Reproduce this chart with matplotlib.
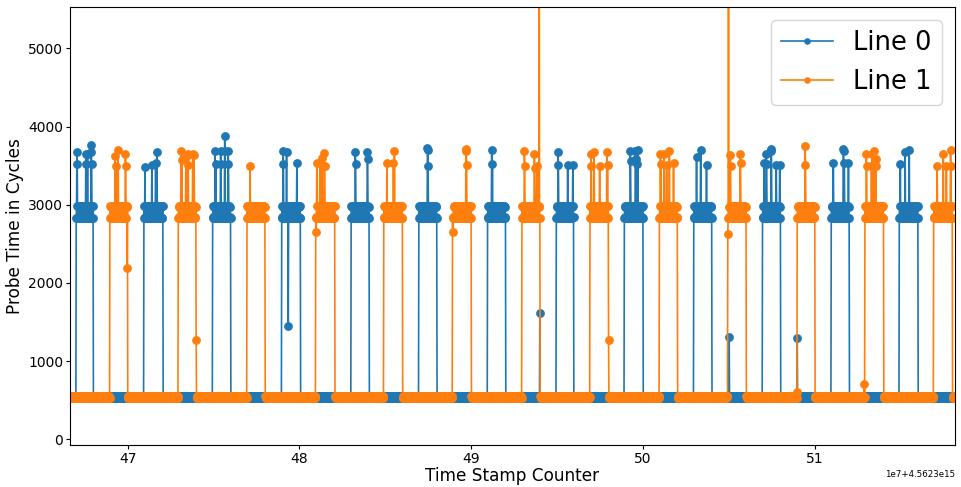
import matplotlib
matplotlib.use("Agg")
import matplotlib.pyplot as plt
import numpy as np


OUTPUT_PATH = "out.png"

# time stamps are stored in units of 1e7 cycles after this offset
TSC_OFFSET = 4.5623e15
TSC_UNIT = 1e7
T_START = 46.665
T_END = 51.815
SAMPLE_STEP = 0.002

# probe times (cycles)
BASE_LEVELS = [525, 552, 535, 556, 530]
PLATEAU_LEVELS = [2830, 2985, 2845, 2970, 2835, 2990]
OFF_CHART = 9000  # the two orange spikes leave the plot, true height unknown

LINE0_BURSTS = [
    (46.700, 46.800), (47.095, 47.205), (47.495, 47.600), (47.895, 48.005),
    (48.300, 48.405), (48.695, 48.800), (49.095, 49.200), (49.495, 49.595),
    (49.890, 50.000), (50.295, 50.400), (50.695, 50.800), (51.095, 51.200),
    (51.490, 51.600),
]

LINE1_BURSTS = [
    (46.895, 47.000), (47.295, 47.400), (47.695, 47.800), (48.095, 48.205),
    (48.490, 48.600), (48.890, 49.000), (49.295, 49.400), (49.690, 49.800),
    (50.095, 50.200), (50.495, 50.600), (50.895, 51.000), (51.290, 51.400),
    (51.690, 51.800),
]

LINE0_SPIKES = [
    (46.705, 3680), (46.707, 3520), (46.757, 3650), (46.759, 3520),
    (46.767, 3650), (46.787, 3760), (46.789, 3680), (46.791, 3520),
    (47.100, 3680), (47.102, 3480), (47.140, 3510), (47.163, 3540),
    (47.172, 3680),
    (47.510, 3690), (47.512, 3520), (47.540, 3690), (47.542, 3520),
    (47.565, 3880), (47.567, 3690), (47.585, 3690), (47.587, 3520),
    (47.905, 3690), (47.907, 3520), (47.925, 3670), (47.935, 1450),
    (47.985, 3540),
    (48.325, 3680), (48.327, 3520), (48.395, 3670), (48.397, 3590),
    (48.745, 3730), (48.747, 3700), (48.749, 3500),
    (49.120, 3700), (49.122, 3520),
    (49.400, 1620),
    (49.505, 3670), (49.507, 3510), (49.560, 3510), (49.590, 3510),
    (49.925, 3690), (49.927, 3560), (49.955, 3690), (49.957, 3590),
    (49.965, 3520), (49.970, 3700),
    (50.310, 3690), (50.312, 3610), (50.335, 3700), (50.370, 3510),
    (50.500, 1310),
    (50.705, 3540), (50.717, 3650), (50.719, 3520), (50.745, 3720),
    (50.747, 3690), (50.775, 3510), (50.795, 3510),
    (50.897, 1300),
    (51.108, 3540), (51.165, 3720), (51.167, 3690), (51.172, 3540),
    (51.194, 3540),
    (51.496, 3670), (51.498, 3520), (51.525, 3680), (51.550, 3700),
]

LINE1_SPIKES = [
    (46.928, 3620), (46.930, 3500), (46.944, 3700), (46.987, 3650),
    (46.989, 3500), (46.998, 2190),
    (47.312, 3690), (47.314, 3570), (47.339, 3610), (47.351, 3650),
    (47.353, 3510), (47.378, 3650), (47.388, 3640), (47.398, 1270),
    (47.713, 3490),
    (48.097, 2650), (48.102, 3540), (48.120, 3540), (48.133, 3600),
    (48.145, 3660), (48.147, 3500),
    (48.508, 3690), (48.510, 3540), (48.547, 3540), (48.552, 3690),
    (48.893, 2650), (48.969, 3710), (48.971, 3690), (48.973, 3510),
    (49.308, 3690), (49.310, 3500), (49.366, 3650), (49.368, 3470),
    (49.380, 3650), (49.382, 3500), (49.395, OFF_CHART),
    (49.697, 3650), (49.699, 3500), (49.715, 3670), (49.746, 3540),
    (49.748, 3500), (49.790, 3670), (49.792, 3510), (49.798, 1270),
    (50.102, 3650), (50.104, 3520), (50.122, 3650), (50.138, 3510),
    (50.153, 3690), (50.176, 3540),
    (50.493, 2630), (50.496, OFF_CHART), (50.506, 3640), (50.508, 3500),
    (50.564, 3650), (50.566, 3530),
    (50.893, 610), (50.942, 3750), (50.944, 3540), (50.946, 3510),
    (51.288, 710), (51.300, 3650), (51.302, 3500), (51.328, 3500),
    (51.333, 3650), (51.343, 3690), (51.353, 3590), (51.355, 3500),
    (51.711, 3500), (51.746, 3650), (51.765, 3500), (51.789, 3700),
    (51.791, 3500),
]

LINE_LABELS = ["Line 0", "Line 1"]
LINE_COLORS = ["#1f77b4", "#ff7f0e"]


def build_series(bursts, spikes):
    n = int(round((T_END - T_START) / SAMPLE_STEP)) + 1
    t = T_START + np.arange(n) * SAMPLE_STEP

    values = np.array([BASE_LEVELS[i % len(BASE_LEVELS)] for i in range(n)], dtype=float)
    for start, end in bursts:
        inside = np.where((t >= start) & (t <= end))[0]
        for k, idx in enumerate(inside):
            values[idx] = PLATEAU_LEVELS[k % len(PLATEAU_LEVELS)]

    for when, value in spikes:
        idx = int(np.rint((when - T_START) / SAMPLE_STEP))
        values[idx] = value

    return TSC_OFFSET + t * TSC_UNIT, values


def main():
    fig, ax = plt.subplots(figsize=(9.62, 4.87), dpi=100)
    fig.subplots_adjust(left=0.0728, right=0.9927, top=0.9856, bottom=0.0862)

    series = [
        build_series(LINE0_BURSTS, LINE0_SPIKES),
        build_series(LINE1_BURSTS, LINE1_SPIKES),
    ]

    for (x, y), label, color in zip(series, LINE_LABELS, LINE_COLORS):
        ax.plot(x, y, marker="o", markersize=5.3, linewidth=1.2,
                color=color, label=label)

    ax.set_xlim(TSC_OFFSET + T_START * TSC_UNIT, TSC_OFFSET + T_END * TSC_UNIT)
    ax.set_ylim(-73, 5530)
    ax.set_yticks([0, 1000, 2000, 3000, 4000, 5000])

    ax.set_xlabel("Time Stamp Counter", fontsize=12.2, labelpad=1)
    ax.set_ylabel("Probe Time in Cycles", fontsize=12.2, labelpad=3)
    ax.tick_params(labelsize=10, length=3, pad=2)
    ax.xaxis.get_offset_text().set_fontsize(6.2)

    ax.legend(loc="upper right", fontsize=18.5, markerscale=0.7)

    fig.savefig(OUTPUT_PATH, dpi=100)
    plt.close(fig)


if __name__ == "__main__":
    main()
